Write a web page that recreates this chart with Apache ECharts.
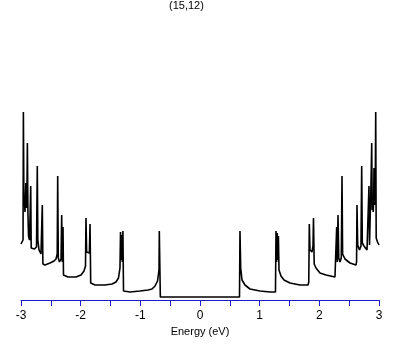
<!DOCTYPE html>
<html>
<head>
<meta charset="utf-8">
<script src="https://cdn.jsdelivr.net/npm/echarts@6/dist/echarts.min.js"></script>
<style>
    html, body {margin: 0; padding: 0; background: #fff;}
    #dos {width: 409px; height: 345px;}
</style>
</head>
<body>
<div id="dos"></div>
<script>
// energy (eV) and density of states (arb. units)
var energy = [
    -3.000, -2.983, -2.966, -2.960, -2.951, -2.943, -2.934, -2.926, -2.918, -2.909,
    -2.901, -2.893, -2.884, -2.874, -2.857, -2.846, -2.837, -2.829, -2.807, -2.774,
    -2.740, -2.727, -2.718, -2.698, -2.665, -2.643, -2.633, -2.598, -2.514, -2.447,
    -2.413, -2.393, -2.385, -2.375, -2.355, -2.329, -2.318, -2.308, -2.296, -2.288,
    -2.212, -2.078, -1.994, -1.944, -1.919, -1.911, -1.900, -1.877, -1.854, -1.843,
    -1.832, -1.760, -1.592, -1.475, -1.408, -1.366, -1.341, -1.332, -1.322, -1.312,
    -1.302, -1.292, -1.282, -1.173, -1.006, -0.871, -0.804, -0.754, -0.712, -0.687,
    -0.682, -0.665,
    0.662, 0.670, 0.682, 0.704, 0.754, 0.838, 1.006, 1.173, 1.265, 1.274,
    1.284, 1.294, 1.304, 1.314, 1.324, 1.357, 1.408, 1.508, 1.676, 1.810,
    1.823, 1.832, 1.843, 1.877, 1.894, 1.902, 1.914, 1.944, 2.011, 2.112,
    2.262, 2.279, 2.291, 2.301, 2.313, 2.326, 2.346, 2.368, 2.380, 2.390,
    2.430, 2.514, 2.614, 2.624, 2.631, 2.643, 2.673, 2.698, 2.710, 2.720,
    2.748, 2.799, 2.824, 2.832, 2.841, 2.854, 2.862, 2.878, 2.886, 2.894,
    2.903, 2.911, 2.916, 2.924, 2.936, 2.945, 2.953, 2.975, 3.000
];
var dos = [
    53, 55, 57, 185, 91, 101, 85, 99, 114, 89,
    101, 154, 85, 61, 57, 59, 111, 49, 47, 48,
    50, 131, 57, 47, 43, 92, 33, 32, 34, 36,
    38, 43, 121, 39, 35, 38, 82, 35, 70, 22,
    20, 20, 22, 26, 31, 79, 45, 47, 44, 73,
    14, 12, 12, 13, 15, 19, 29, 65, 37, 62,
    35, 66, 6, 5, 6, 7, 8, 11, 16, 27,
    66, 0,
    0, 66, 29, 17, 12, 8, 6, 5, 5, 66,
    35, 64, 37, 61, 27, 21, 17, 14, 12, 12,
    15, 73, 47, 45, 51, 79, 33, 29, 24, 22,
    20, 22, 70, 35, 82, 39, 35, 39, 121, 43,
    38, 34, 32, 35, 92, 52, 47, 51, 131, 54,
    51, 47, 45, 111, 52, 85, 101, 154, 87, 102,
    85, 99, 129, 92, 97, 185, 59, 55, 52
];
var xTicks = [-3, 3, 1];
var titleText = '(15,12)';
var xName = 'Energy (eV)';

function drawDos() {
    var chart = echarts.init(document.getElementById('dos'));
    var points = [];
    for (var i = 0; i < energy.length; i++) {
        points.push([energy[i], dos[i]]);
    }
    var font = 'Liberation Sans, Arial, sans-serif';
    chart.setOption({
        animation: false,
        title: {
            text: titleText,
            left: 169,
            top: 0,
            padding: 0,
            textStyle: {fontSize: 11, fontWeight: 'normal', color: '#000', fontFamily: font}
        },
        grid: {
            left: 21,
            right: 30,
            top: 20,
            bottom: 45
        },
        xAxis: {
            type: 'value',
            min: xTicks[0],
            max: xTicks[1],
            interval: xTicks[2],
            name: xName,
            nameLocation: 'middle',
            nameGap: 24,
            nameTextStyle: {fontSize: 11, color: '#000', fontFamily: font},
            axisLine: {onZero: false, lineStyle: {color: '#1a1acc', width: 1}},
            axisTick: {inside: false, length: 6, lineStyle: {color: '#1a1acc', width: 1}},
            minorTick: {show: true, splitNumber: 2, length: 6, lineStyle: {color: '#1a1acc', width: 1}},
            splitLine: {show: false},
            axisLabel: {fontSize: 12, color: '#000', margin: 10, fontFamily: font}
        },
        yAxis: {
            type: 'value',
            min: -3,
            max: 277,
            show: false,
            splitLine: {show: false}
        },
        series: [
            {
                type: 'line',
                data: points,
                showSymbol: false,
                symbol: 'none',
                sampling: false,
                lineStyle: {color: '#000', width: 1.6},
                z: 3
            }
        ]
    });
}

drawDos();
</script>
</body>
</html>
